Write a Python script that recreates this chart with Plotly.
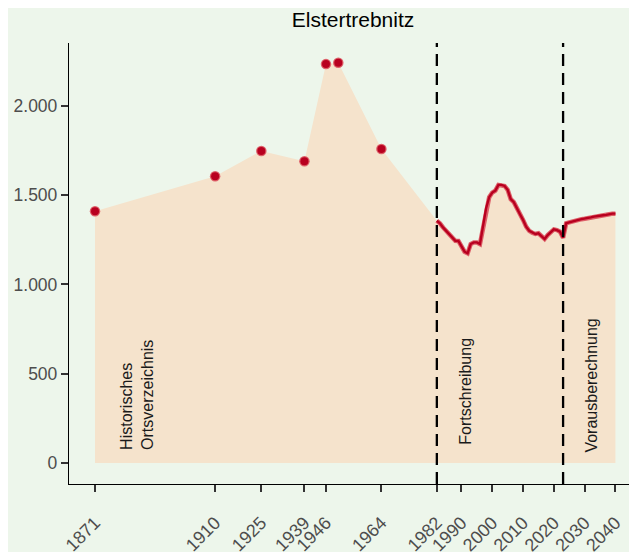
import plotly.graph_objects as go

# historical census values (points)
hist_years = [1871, 1910, 1925, 1939, 1946, 1950, 1964]
hist_pop = [1409, 1605, 1747, 1689, 2233, 2240, 1758]

# annual series: Fortschreibung 1982-2023, Vorausberechnung 2024-2040
line_years = list(range(1982, 2041))
line_pop = [1356, 1342, 1319, 1300, 1280, 1267, 1244, 1243, 1215, 1183,
            1174, 1226, 1235, 1235, 1226, 1323, 1426, 1488, 1514, 1525,
            1557, 1557, 1551, 1529, 1477, 1460, 1430, 1393, 1361, 1323,
            1300, 1289, 1282, 1286, 1267, 1254, 1276, 1293, 1308, 1304,
            1295, 1261, 1342, 1347, 1353, 1357, 1361, 1365, 1367, 1371,
            1375, 1379, 1383, 1385, 1387, 1389, 1393, 1396, 1396]

tick_years = [1871, 1910, 1925, 1939, 1946, 1964, 1982, 1990, 2000, 2010, 2020, 2030, 2040]
period_breaks = [1982, 2023]

BG = "#edf6eb"
AREA = "#f5e3cc"
DARK_RED = "#b8001f"
LIGHT_RED = "#dd5f68"

fig = go.Figure()

# shaded area under everything
fig.add_trace(go.Scatter(
    x=hist_years + line_years,
    y=hist_pop + line_pop,
    mode="lines",
    line=dict(width=0),
    fill="tozeroy",
    fillcolor=AREA,
    hoverinfo="skip",
    showlegend=False,
))

# annual line: light halo under a dark core
fig.add_trace(go.Scatter(
    x=line_years, y=line_pop, mode="lines",
    line=dict(color=LIGHT_RED, width=4.5),
    showlegend=False,
))
fig.add_trace(go.Scatter(
    x=line_years, y=line_pop, mode="lines",
    line=dict(color=DARK_RED, width=2.4),
    showlegend=False,
))

# census points
fig.add_trace(go.Scatter(
    x=hist_years, y=hist_pop, mode="markers",
    marker=dict(color=LIGHT_RED, size=10.5),
    showlegend=False,
))
fig.add_trace(go.Scatter(
    x=hist_years, y=hist_pop, mode="markers",
    marker=dict(color=DARK_RED, size=8),
    showlegend=False,
))

for yr in period_breaks:
    fig.add_shape(type="line", x0=yr, x1=yr, y0=0, y1=1, yref="paper",
                  line=dict(color="black", width=2.3, dash="12px,7px"))

labels = [
    (1884.6, 62, "Historisches<br>Ortsverzeichnis"),
    (1991.2, 90, "Fortschreibung"),
    (2032.2, 50, "Vorausberechnung"),
]
for x, y, txt in labels:
    fig.add_annotation(x=x, y=y, text=txt, textangle=-90, showarrow=False,
                       xanchor="center", yanchor="bottom", align="left",
                       font=dict(size=16, color="#1a1a1a"))

# page body has an 8px margin, so the margins below are shifted by 8px
fig.update_layout(
    width=637, height=552,
    margin=dict(l=61, r=8, t=35, b=76),
    paper_bgcolor=BG, plot_bgcolor=BG,
    font=dict(family="Liberation Sans, Arial, sans-serif"),
    title=dict(text="Elstertrebnitz", x=0.5416, xanchor="center", y=0.978, yanchor="middle",
               font=dict(size=21, color="black")),
    showlegend=False,
)
fig.update_xaxes(
    range=[1862.55, 2047.0], automargin=False,
    tickvals=tick_years, ticktext=[str(t) for t in tick_years],
    tickangle=-45, ticks="outside", ticklen=7, tickwidth=1.8, tickcolor="#333333",
    tickfont=dict(size=18, color="#4d4d4d"), ticklabelstandoff=13,
    showline=True, linecolor="black", linewidth=1.3,
    showgrid=False, zeroline=False,
)
fig.update_yaxes(
    range=[-117, 2351], automargin=False,
    tickvals=[0, 500, 1000, 1500, 2000], ticktext=["0", "500", "1.000", "1.500", "2.000"],
    ticks="outside", ticklen=7, tickwidth=1.8, tickcolor="#333333",
    tickfont=dict(size=17.5, color="#4d4d4d"),
    showline=True, linecolor="black", linewidth=1.3,
    showgrid=False, zeroline=False,
)

fig.write_html("out.html")
